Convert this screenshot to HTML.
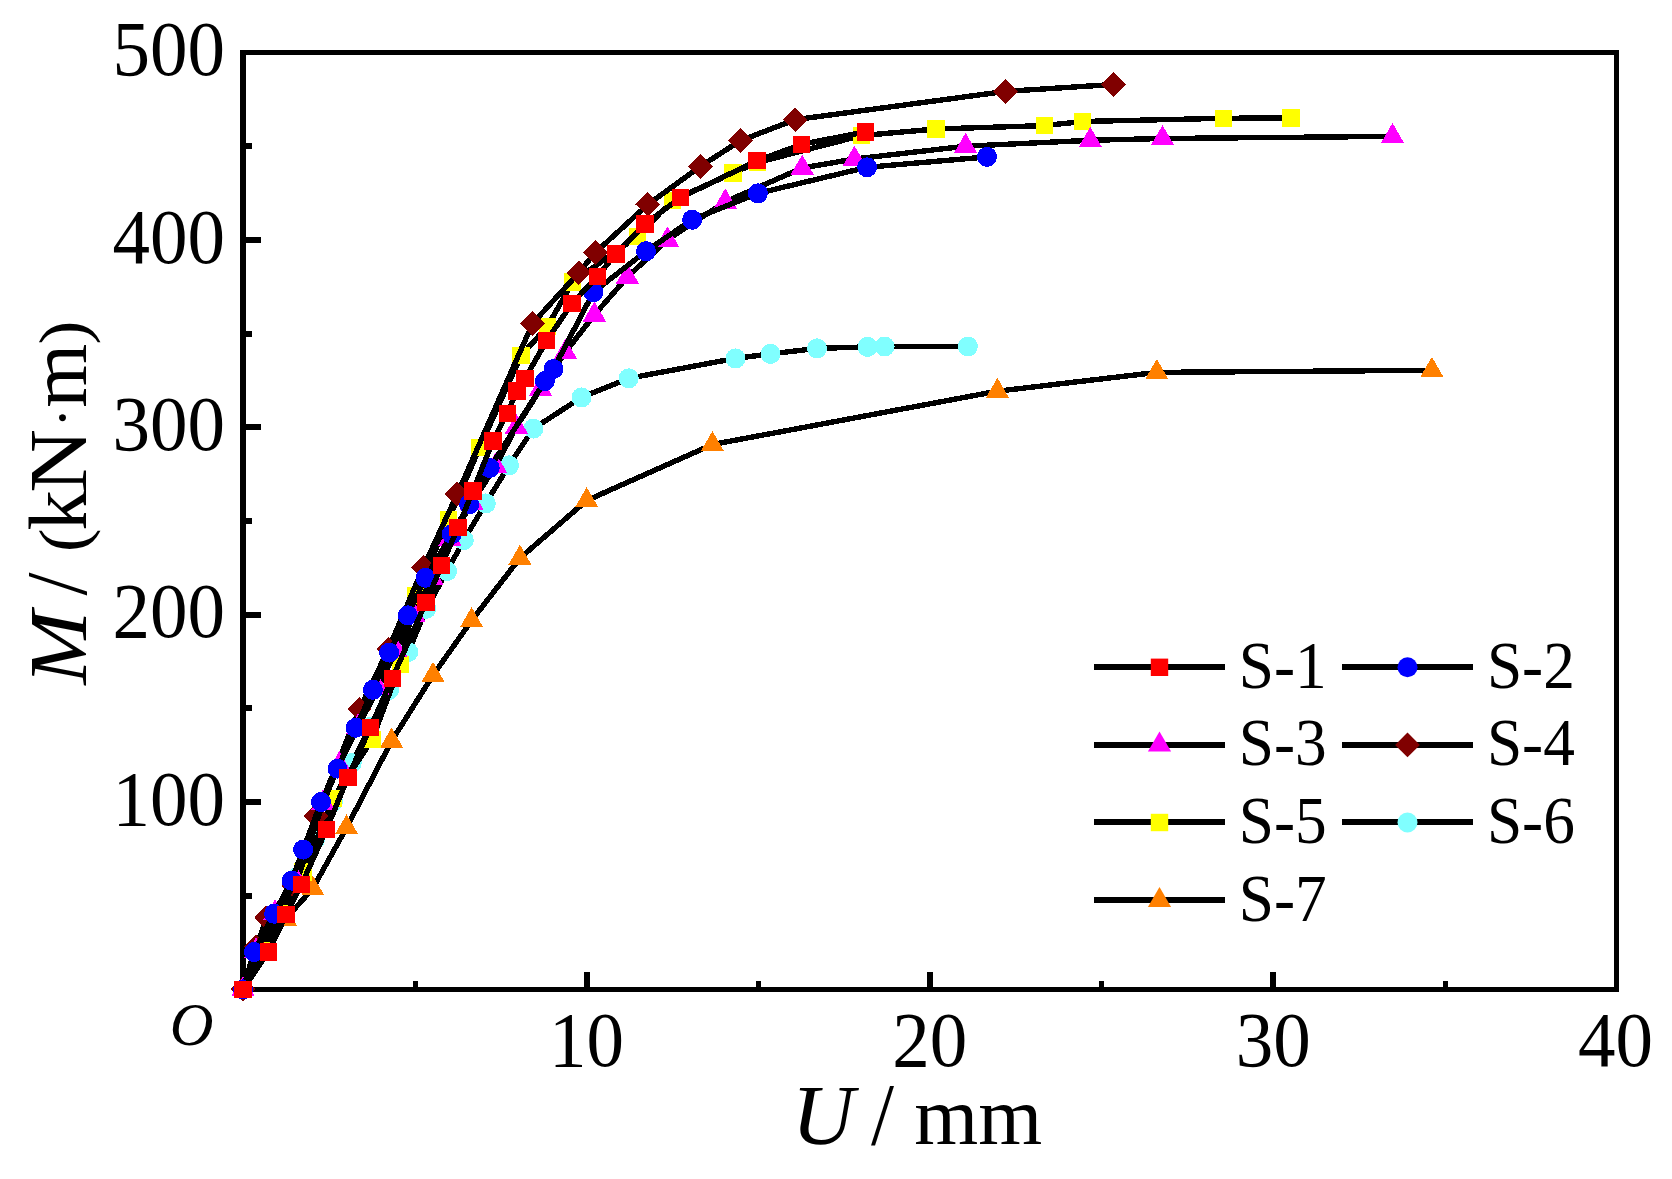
<!DOCTYPE html>
<html lang="en">
<head>
<meta charset="utf-8">
<title>M-U curves</title>
<style>html,body{margin:0;padding:0;background:#fff}svg{display:block}</style>
</head>
<body>
<svg width="1672" height="1179" viewBox="0 0 1672 1179">
<rect width="1672" height="1179" fill="#fff"/>
<g stroke="#000" fill="none" shape-rendering="crispEdges">
<line x1="243" y1="50" x2="243" y2="992" stroke-width="6"/>
<line x1="1616.7" y1="50" x2="1616.7" y2="992" stroke-width="5"/>
<line x1="240" y1="52.5" x2="1619.2" y2="52.5" stroke-width="5"/>
<line x1="240" y1="989.5" x2="1619.2" y2="989.5" stroke-width="5"/>
<line x1="243" y1="239.9" x2="261" y2="239.9" stroke-width="6"/>
<line x1="243" y1="427.3" x2="261" y2="427.3" stroke-width="6"/>
<line x1="243" y1="614.7" x2="261" y2="614.7" stroke-width="6"/>
<line x1="243" y1="802.1" x2="261" y2="802.1" stroke-width="6"/>
<line x1="243" y1="146.2" x2="252" y2="146.2" stroke-width="6"/>
<line x1="243" y1="333.6" x2="252" y2="333.6" stroke-width="6"/>
<line x1="243" y1="521" x2="252" y2="521" stroke-width="6"/>
<line x1="243" y1="708.4" x2="252" y2="708.4" stroke-width="6"/>
<line x1="243" y1="895.8" x2="252" y2="895.8" stroke-width="6"/>
<line x1="586.5" y1="972" x2="586.5" y2="989" stroke-width="6"/>
<line x1="929.9" y1="972" x2="929.9" y2="989" stroke-width="6"/>
<line x1="1273.3" y1="972" x2="1273.3" y2="989" stroke-width="6"/>
<line x1="415" y1="981" x2="415" y2="989" stroke-width="5"/>
<line x1="758.1" y1="981" x2="758.1" y2="989" stroke-width="5"/>
<line x1="1101.6" y1="981" x2="1101.6" y2="989" stroke-width="5"/>
<line x1="1445" y1="981" x2="1445" y2="989" stroke-width="5"/>
</g>
<g shape-rendering="crispEdges">
<polyline fill="none" stroke="#000" stroke-width="5.4" stroke-linejoin="round" points="243.0,989.4 285.5,919.0 312.7,888.6 346.6,827.6 391.6,741.0 433.0,675.2 471.6,620.5 519.9,558.1 586.7,500.5 712.4,444.5 997.4,391.2 1156.8,372.4 1431.9,370.3"/>
<polygon points="243.0,976.0 254.6,996.1 231.4,996.1" fill="#ff8000"/>
<polygon points="285.5,905.6 297.1,925.7 273.9,925.7" fill="#ff8000"/>
<polygon points="312.7,875.2 324.3,895.3 301.1,895.3" fill="#ff8000"/>
<polygon points="346.6,814.2 358.2,834.3 335.0,834.3" fill="#ff8000"/>
<polygon points="391.6,727.6 403.2,747.7 380.0,747.7" fill="#ff8000"/>
<polygon points="433.0,661.8 444.6,681.9 421.4,681.9" fill="#ff8000"/>
<polygon points="471.6,607.1 483.2,627.2 460.0,627.2" fill="#ff8000"/>
<polygon points="519.9,544.7 531.5,564.8 508.3,564.8" fill="#ff8000"/>
<polygon points="586.7,487.1 598.3,507.2 575.1,507.2" fill="#ff8000"/>
<polygon points="712.4,431.1 724.0,451.2 700.8,451.2" fill="#ff8000"/>
<polygon points="997.4,377.8 1009.0,397.9 985.8,397.9" fill="#ff8000"/>
<polygon points="1156.8,359.0 1168.4,379.1 1145.2,379.1" fill="#ff8000"/>
<polygon points="1431.9,356.9 1443.5,377.0 1420.3,377.0" fill="#ff8000"/>
<polyline fill="none" stroke="#000" stroke-width="5.4" stroke-linejoin="round" points="243.0,989.4 261.0,952.0 279.0,914.0 297.0,877.0 315.0,840.0 333.0,802.0 351.8,763.0 370.0,727.0 389.0,690.0 408.3,652.0 426.2,608.9 447.1,571.1 463.8,540.1 485.8,503.4 509.0,465.4 533.4,428.6 581.5,397.4 628.7,378.3 735.5,358.4 770.5,353.9 817.0,348.4 867.5,346.9 884.7,346.5 967.9,346.5"/>
<circle cx="243.0" cy="989.4" r="10.0" fill="#80ffff"/>
<circle cx="261.0" cy="952.0" r="10.0" fill="#80ffff"/>
<circle cx="279.0" cy="914.0" r="10.0" fill="#80ffff"/>
<circle cx="297.0" cy="877.0" r="10.0" fill="#80ffff"/>
<circle cx="315.0" cy="840.0" r="10.0" fill="#80ffff"/>
<circle cx="333.0" cy="802.0" r="10.0" fill="#80ffff"/>
<circle cx="351.8" cy="763.0" r="10.0" fill="#80ffff"/>
<circle cx="370.0" cy="727.0" r="10.0" fill="#80ffff"/>
<circle cx="389.0" cy="690.0" r="10.0" fill="#80ffff"/>
<circle cx="408.3" cy="652.0" r="10.0" fill="#80ffff"/>
<circle cx="426.2" cy="608.9" r="10.0" fill="#80ffff"/>
<circle cx="447.1" cy="571.1" r="10.0" fill="#80ffff"/>
<circle cx="463.8" cy="540.1" r="10.0" fill="#80ffff"/>
<circle cx="485.8" cy="503.4" r="10.0" fill="#80ffff"/>
<circle cx="509.0" cy="465.4" r="10.0" fill="#80ffff"/>
<circle cx="533.4" cy="428.6" r="10.0" fill="#80ffff"/>
<circle cx="581.5" cy="397.4" r="10.0" fill="#80ffff"/>
<circle cx="628.7" cy="378.3" r="10.0" fill="#80ffff"/>
<circle cx="735.5" cy="358.4" r="10.0" fill="#80ffff"/>
<circle cx="770.5" cy="353.9" r="10.0" fill="#80ffff"/>
<circle cx="817.0" cy="348.4" r="10.0" fill="#80ffff"/>
<circle cx="867.5" cy="346.9" r="10.0" fill="#80ffff"/>
<circle cx="884.7" cy="346.5" r="10.0" fill="#80ffff"/>
<circle cx="967.9" cy="346.5" r="10.0" fill="#80ffff"/>
<polyline fill="none" stroke="#000" stroke-width="5.4" stroke-linejoin="round" points="243.0,989.4 262.0,951.0 281.0,914.0 303.0,872.0 333.5,798.7 372.3,739.3 400.4,664.4 415.7,595.9 448.7,519.3 479.8,447.4 521.0,355.6 547.2,326.7 572.7,281.9 637.6,236.2 672.3,200.5 733.0,173.0 757.4,162.5 861.3,135.6 936.0,129.0 1044.6,125.6 1082.5,121.5 1223.5,118.3 1290.9,117.9"/>
<rect x="234.3" y="980.7" width="17.4" height="17.4" fill="#ffff00"/>
<rect x="253.3" y="942.3" width="17.4" height="17.4" fill="#ffff00"/>
<rect x="272.3" y="905.3" width="17.4" height="17.4" fill="#ffff00"/>
<rect x="294.3" y="863.3" width="17.4" height="17.4" fill="#ffff00"/>
<rect x="324.8" y="790.0" width="17.4" height="17.4" fill="#ffff00"/>
<rect x="363.6" y="730.6" width="17.4" height="17.4" fill="#ffff00"/>
<rect x="391.7" y="655.7" width="17.4" height="17.4" fill="#ffff00"/>
<rect x="407.0" y="587.2" width="17.4" height="17.4" fill="#ffff00"/>
<rect x="440.0" y="510.6" width="17.4" height="17.4" fill="#ffff00"/>
<rect x="471.1" y="438.7" width="17.4" height="17.4" fill="#ffff00"/>
<rect x="512.3" y="346.9" width="17.4" height="17.4" fill="#ffff00"/>
<rect x="538.5" y="318.0" width="17.4" height="17.4" fill="#ffff00"/>
<rect x="564.0" y="273.2" width="17.4" height="17.4" fill="#ffff00"/>
<rect x="628.9" y="227.5" width="17.4" height="17.4" fill="#ffff00"/>
<rect x="663.6" y="191.8" width="17.4" height="17.4" fill="#ffff00"/>
<rect x="724.3" y="164.3" width="17.4" height="17.4" fill="#ffff00"/>
<rect x="748.7" y="153.8" width="17.4" height="17.4" fill="#ffff00"/>
<rect x="852.6" y="126.9" width="17.4" height="17.4" fill="#ffff00"/>
<rect x="927.3" y="120.3" width="17.4" height="17.4" fill="#ffff00"/>
<rect x="1035.9" y="116.9" width="17.4" height="17.4" fill="#ffff00"/>
<rect x="1073.8" y="112.8" width="17.4" height="17.4" fill="#ffff00"/>
<rect x="1214.8" y="109.6" width="17.4" height="17.4" fill="#ffff00"/>
<rect x="1282.2" y="109.2" width="17.4" height="17.4" fill="#ffff00"/>
<polyline fill="none" stroke="#000" stroke-width="5.4" stroke-linejoin="round" points="243.0,989.4 256.4,947.0 266.4,918.0 294.0,886.0 316.0,816.0 359.5,709.0 388.5,649.0 423.2,567.6 457.3,494.0 532.6,323.4 578.9,272.6 595.3,252.6 647.9,204.5 700.5,166.3 740.6,140.6 795.1,119.7 1005.4,91.4 1113.2,84.5"/>
<polygon points="243.0,977.0 255.4,989.4 243.0,1001.8 230.6,989.4" fill="#800000"/>
<polygon points="256.4,934.6 268.8,947.0 256.4,959.4 244.0,947.0" fill="#800000"/>
<polygon points="266.4,905.6 278.8,918.0 266.4,930.4 254.0,918.0" fill="#800000"/>
<polygon points="294.0,873.6 306.4,886.0 294.0,898.4 281.6,886.0" fill="#800000"/>
<polygon points="316.0,803.6 328.4,816.0 316.0,828.4 303.6,816.0" fill="#800000"/>
<polygon points="359.5,696.6 371.9,709.0 359.5,721.4 347.1,709.0" fill="#800000"/>
<polygon points="388.5,636.6 400.9,649.0 388.5,661.4 376.1,649.0" fill="#800000"/>
<polygon points="423.2,555.2 435.6,567.6 423.2,580.0 410.8,567.6" fill="#800000"/>
<polygon points="457.3,481.6 469.7,494.0 457.3,506.4 444.9,494.0" fill="#800000"/>
<polygon points="532.6,311.0 545.0,323.4 532.6,335.8 520.2,323.4" fill="#800000"/>
<polygon points="578.9,260.2 591.3,272.6 578.9,285.0 566.5,272.6" fill="#800000"/>
<polygon points="595.3,240.2 607.7,252.6 595.3,265.0 582.9,252.6" fill="#800000"/>
<polygon points="647.9,192.1 660.3,204.5 647.9,216.9 635.5,204.5" fill="#800000"/>
<polygon points="700.5,153.9 712.9,166.3 700.5,178.7 688.1,166.3" fill="#800000"/>
<polygon points="740.6,128.2 753.0,140.6 740.6,153.0 728.2,140.6" fill="#800000"/>
<polygon points="795.1,107.3 807.5,119.7 795.1,132.1 782.7,119.7" fill="#800000"/>
<polygon points="1005.4,79.0 1017.8,91.4 1005.4,103.8 993.0,91.4" fill="#800000"/>
<polygon points="1113.2,72.1 1125.6,84.5 1113.2,96.9 1100.8,84.5" fill="#800000"/>
<polyline fill="none" stroke="#000" stroke-width="5.4" stroke-linejoin="round" points="243.0,989.4 256.0,951.0 275.0,913.0 297.0,881.0 323.0,803.0 339.3,764.5 358.0,727.0 378.0,688.0 396.0,650.0 414.0,615.0 432.0,578.0 450.0,539.0 472.0,503.0 495.5,466.0 516.4,427.0 540.5,389.1 565.5,352.1 594.4,314.8 627.4,277.0 667.4,239.8 725.3,201.8 802.2,168.0 854.4,159.0 965.6,146.2 1090.3,140.3 1162.5,138.5 1392.5,136.4"/>
<polygon points="243.0,976.0 254.6,996.1 231.4,996.1" fill="#ff00ff"/>
<polygon points="256.0,937.6 267.6,957.7 244.4,957.7" fill="#ff00ff"/>
<polygon points="275.0,899.6 286.6,919.7 263.4,919.7" fill="#ff00ff"/>
<polygon points="297.0,867.6 308.6,887.7 285.4,887.7" fill="#ff00ff"/>
<polygon points="323.0,789.6 334.6,809.7 311.4,809.7" fill="#ff00ff"/>
<polygon points="339.3,751.1 350.9,771.2 327.7,771.2" fill="#ff00ff"/>
<polygon points="358.0,713.6 369.6,733.7 346.4,733.7" fill="#ff00ff"/>
<polygon points="378.0,674.6 389.6,694.7 366.4,694.7" fill="#ff00ff"/>
<polygon points="396.0,636.6 407.6,656.7 384.4,656.7" fill="#ff00ff"/>
<polygon points="414.0,601.6 425.6,621.7 402.4,621.7" fill="#ff00ff"/>
<polygon points="432.0,564.6 443.6,584.7 420.4,584.7" fill="#ff00ff"/>
<polygon points="450.0,525.6 461.6,545.7 438.4,545.7" fill="#ff00ff"/>
<polygon points="472.0,489.6 483.6,509.7 460.4,509.7" fill="#ff00ff"/>
<polygon points="495.5,452.6 507.1,472.7 483.9,472.7" fill="#ff00ff"/>
<polygon points="516.4,413.6 528.0,433.7 504.8,433.7" fill="#ff00ff"/>
<polygon points="540.5,375.7 552.1,395.8 528.9,395.8" fill="#ff00ff"/>
<polygon points="565.5,338.7 577.1,358.8 553.9,358.8" fill="#ff00ff"/>
<polygon points="594.4,301.4 606.0,321.5 582.8,321.5" fill="#ff00ff"/>
<polygon points="627.4,263.6 639.0,283.7 615.8,283.7" fill="#ff00ff"/>
<polygon points="667.4,226.4 679.0,246.5 655.8,246.5" fill="#ff00ff"/>
<polygon points="725.3,188.4 736.9,208.5 713.7,208.5" fill="#ff00ff"/>
<polygon points="802.2,154.6 813.8,174.7 790.6,174.7" fill="#ff00ff"/>
<polygon points="854.4,145.6 866.0,165.7 842.8,165.7" fill="#ff00ff"/>
<polygon points="965.6,132.8 977.2,152.9 954.0,152.9" fill="#ff00ff"/>
<polygon points="1090.3,126.9 1101.9,147.0 1078.7,147.0" fill="#ff00ff"/>
<polygon points="1162.5,125.1 1174.1,145.2 1150.9,145.2" fill="#ff00ff"/>
<polygon points="1392.5,123.0 1404.1,143.1 1380.9,143.1" fill="#ff00ff"/>
<polyline fill="none" stroke="#000" stroke-width="5.4" stroke-linejoin="round" points="243.0,989.4 254.0,952.0 274.1,913.8 291.6,880.7 303.1,849.6 321.0,802.0 337.5,768.7 355.8,727.8 372.9,689.8 389.1,652.6 407.8,615.3 425.5,577.8 451.8,534.2 469.2,504.3 489.7,468.0 545.0,381.0 553.5,369.0 593.4,292.2 646.0,251.2 692.1,219.8 757.9,193.3 867.1,167.3 987.0,156.9"/>
<circle cx="243.0" cy="989.4" r="10.0" fill="#0000ff"/>
<circle cx="254.0" cy="952.0" r="10.0" fill="#0000ff"/>
<circle cx="274.1" cy="913.8" r="10.0" fill="#0000ff"/>
<circle cx="291.6" cy="880.7" r="10.0" fill="#0000ff"/>
<circle cx="303.1" cy="849.6" r="10.0" fill="#0000ff"/>
<circle cx="321.0" cy="802.0" r="10.0" fill="#0000ff"/>
<circle cx="337.5" cy="768.7" r="10.0" fill="#0000ff"/>
<circle cx="355.8" cy="727.8" r="10.0" fill="#0000ff"/>
<circle cx="372.9" cy="689.8" r="10.0" fill="#0000ff"/>
<circle cx="389.1" cy="652.6" r="10.0" fill="#0000ff"/>
<circle cx="407.8" cy="615.3" r="10.0" fill="#0000ff"/>
<circle cx="425.5" cy="577.8" r="10.0" fill="#0000ff"/>
<circle cx="451.8" cy="534.2" r="10.0" fill="#0000ff"/>
<circle cx="469.2" cy="504.3" r="10.0" fill="#0000ff"/>
<circle cx="489.7" cy="468.0" r="10.0" fill="#0000ff"/>
<circle cx="545.0" cy="381.0" r="10.0" fill="#0000ff"/>
<circle cx="553.5" cy="369.0" r="10.0" fill="#0000ff"/>
<circle cx="593.4" cy="292.2" r="10.0" fill="#0000ff"/>
<circle cx="646.0" cy="251.2" r="10.0" fill="#0000ff"/>
<circle cx="692.1" cy="219.8" r="10.0" fill="#0000ff"/>
<circle cx="757.9" cy="193.3" r="10.0" fill="#0000ff"/>
<circle cx="867.1" cy="167.3" r="10.0" fill="#0000ff"/>
<circle cx="987.0" cy="156.9" r="10.0" fill="#0000ff"/>
<polyline fill="none" stroke="#000" stroke-width="5.4" stroke-linejoin="round" points="242.9,989.4 268.3,952.0 286.0,914.7 301.5,884.5 326.5,829.4 347.8,777.5 370.5,727.3 392.3,678.2 425.9,602.4 441.6,565.5 458.0,527.6 472.9,490.9 492.9,440.9 507.2,413.3 517.0,390.9 525.0,378.5 546.6,340.7 572.0,303.4 597.5,276.3 615.8,254.0 645.1,224.1 680.6,197.6 757.1,160.7 801.6,144.3 865.6,131.8"/>
<rect x="234.2" y="980.7" width="17.4" height="17.4" fill="#ff0000"/>
<rect x="259.6" y="943.3" width="17.4" height="17.4" fill="#ff0000"/>
<rect x="277.3" y="906.0" width="17.4" height="17.4" fill="#ff0000"/>
<rect x="292.8" y="875.8" width="17.4" height="17.4" fill="#ff0000"/>
<rect x="317.8" y="820.7" width="17.4" height="17.4" fill="#ff0000"/>
<rect x="339.1" y="768.8" width="17.4" height="17.4" fill="#ff0000"/>
<rect x="361.8" y="718.6" width="17.4" height="17.4" fill="#ff0000"/>
<rect x="383.6" y="669.5" width="17.4" height="17.4" fill="#ff0000"/>
<rect x="417.2" y="593.7" width="17.4" height="17.4" fill="#ff0000"/>
<rect x="432.9" y="556.8" width="17.4" height="17.4" fill="#ff0000"/>
<rect x="449.3" y="518.9" width="17.4" height="17.4" fill="#ff0000"/>
<rect x="464.2" y="482.2" width="17.4" height="17.4" fill="#ff0000"/>
<rect x="484.2" y="432.2" width="17.4" height="17.4" fill="#ff0000"/>
<rect x="498.5" y="404.6" width="17.4" height="17.4" fill="#ff0000"/>
<rect x="508.3" y="382.2" width="17.4" height="17.4" fill="#ff0000"/>
<rect x="516.3" y="369.8" width="17.4" height="17.4" fill="#ff0000"/>
<rect x="537.9" y="332.0" width="17.4" height="17.4" fill="#ff0000"/>
<rect x="563.3" y="294.7" width="17.4" height="17.4" fill="#ff0000"/>
<rect x="588.8" y="267.6" width="17.4" height="17.4" fill="#ff0000"/>
<rect x="607.1" y="245.3" width="17.4" height="17.4" fill="#ff0000"/>
<rect x="636.4" y="215.4" width="17.4" height="17.4" fill="#ff0000"/>
<rect x="671.9" y="188.9" width="17.4" height="17.4" fill="#ff0000"/>
<rect x="748.4" y="152.0" width="17.4" height="17.4" fill="#ff0000"/>
<rect x="792.9" y="135.6" width="17.4" height="17.4" fill="#ff0000"/>
<rect x="856.9" y="123.1" width="17.4" height="17.4" fill="#ff0000"/>
</g>
<g font-family="'Liberation Serif',serif" fill="#000">
<text transform="matrix(1.0,0,0,1.05,112.55,75.20)" font-size="75" text-anchor="start">500</text>
<text transform="matrix(1.0,0,0,1.05,112.55,262.60)" font-size="75" text-anchor="start">400</text>
<text transform="matrix(1.0,0,0,1.05,112.55,450.00)" font-size="75" text-anchor="start">300</text>
<text transform="matrix(1.0,0,0,1.05,112.55,637.40)" font-size="75" text-anchor="start">200</text>
<text transform="matrix(1.0,0,0,1.05,112.55,824.80)" font-size="75" text-anchor="start">100</text>
<text transform="matrix(1.0,0,0,1.05,586.60,1066.20)" font-size="75" text-anchor="middle">10</text>
<text transform="matrix(1.0,0,0,1.05,929.70,1066.20)" font-size="75" text-anchor="middle">20</text>
<text transform="matrix(1.0,0,0,1.05,1273.30,1066.20)" font-size="75" text-anchor="middle">30</text>
<text transform="matrix(1.0,0,0,1.05,1615.50,1066.20)" font-size="75" text-anchor="middle">40</text>
<text transform="matrix(1.0101,0,0,1.0195,169.85,1045.40)" font-size="60" font-style="italic">O</text>
<text transform="matrix(1.0312,0,0,1.0014,791.85,1144.08)" font-size="84" font-style="italic">U</text>
<text transform="matrix(0.9855,0,0,1.0535,871.00,1144.04)" font-size="84">/</text>
<text transform="matrix(0.9796,0,0,0.9904,914.27,1143.50)" font-size="84">mm</text>
<g transform="rotate(-90)">
<text transform="matrix(1.0560,0,0,0.9872,-684.86,86.20)" font-size="84" font-style="italic">M</text>
<text transform="matrix(0.9898,0,0,1.0357,-595.60,86.25)" font-size="84">/</text>
<text transform="matrix(0.9842,0,0,0.9313,-552.01,85.52)" font-size="72">(</text>
<text transform="matrix(0.9629,0,0,0.9831,-530.54,86.20)" font-size="84">k</text>
<text transform="matrix(1.0512,0,0,0.9909,-492.64,86.40)" font-size="84">N</text>
<text transform="matrix(0.9732,0,0,0.9732,-427.52,82.13)" font-size="60">·</text>
<text transform="matrix(0.9797,0,0,0.9752,-407.73,86.20)" font-size="84">m</text>
<text transform="matrix(0.9950,0,0,0.9374,-344.41,85.83)" font-size="72">)</text>
</g>
<line x1="1094" y1="667.0" x2="1225.3" y2="667.0" stroke="#000" stroke-width="6" shape-rendering="crispEdges"/>
<rect x="1150.8" y="658.6" width="17.4" height="17.4" fill="#ff0000"/>
<text transform="matrix(1.03,0,0,1.1,1238.80,687.80)" font-size="61.5" text-anchor="start">S-1</text>
<line x1="1342" y1="667.0" x2="1473.3" y2="667.0" stroke="#000" stroke-width="6" shape-rendering="crispEdges"/>
<circle cx="1407.5" cy="667.3" r="10.0" fill="#0000ff"/>
<text transform="matrix(1.03,0,0,1.1,1486.90,687.80)" font-size="61.5" text-anchor="start">S-2</text>
<line x1="1094" y1="744.6" x2="1225.3" y2="744.6" stroke="#000" stroke-width="6" shape-rendering="crispEdges"/>
<polygon points="1159.5,731.5 1171.1,751.6 1147.9,751.6" fill="#ff00ff"/>
<text transform="matrix(1.03,0,0,1.1,1238.80,765.40)" font-size="61.5" text-anchor="start">S-3</text>
<line x1="1342" y1="744.6" x2="1473.3" y2="744.6" stroke="#000" stroke-width="6" shape-rendering="crispEdges"/>
<polygon points="1407.5,732.5 1419.9,744.9 1407.5,757.3 1395.1,744.9" fill="#800000"/>
<text transform="matrix(1.03,0,0,1.1,1486.90,765.40)" font-size="61.5" text-anchor="start">S-4</text>
<line x1="1094" y1="822.2" x2="1225.3" y2="822.2" stroke="#000" stroke-width="6" shape-rendering="crispEdges"/>
<rect x="1150.8" y="813.8" width="17.4" height="17.4" fill="#ffff00"/>
<text transform="matrix(1.03,0,0,1.1,1238.80,843.00)" font-size="61.5" text-anchor="start">S-5</text>
<line x1="1342" y1="822.2" x2="1473.3" y2="822.2" stroke="#000" stroke-width="6" shape-rendering="crispEdges"/>
<circle cx="1407.5" cy="822.5" r="10.0" fill="#80ffff"/>
<text transform="matrix(1.03,0,0,1.1,1486.90,843.00)" font-size="61.5" text-anchor="start">S-6</text>
<line x1="1094" y1="900.0" x2="1225.3" y2="900.0" stroke="#000" stroke-width="6" shape-rendering="crispEdges"/>
<polygon points="1159.5,886.9 1171.1,907.0 1147.9,907.0" fill="#ff8000"/>
<text transform="matrix(1.03,0,0,1.1,1238.80,920.80)" font-size="61.5" text-anchor="start">S-7</text>
</g>
</svg>
</body>
</html>
